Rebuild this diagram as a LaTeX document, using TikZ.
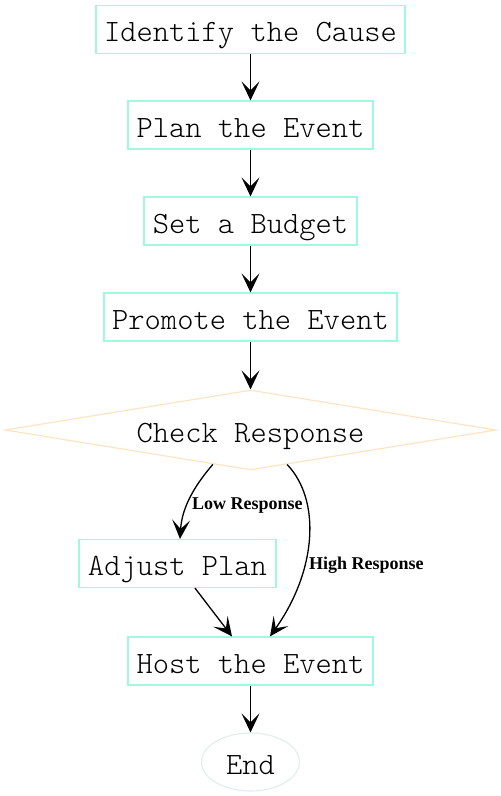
\documentclass[tikz,border=0pt]{standalone}
\usepackage{fontspec}
\newfontfamily\labelfont{Liberation Serif}
\newfontfamily\lightmono{Latin Modern Mono Light}
\usetikzlibrary{shapes.geometric,arrows.meta,calc}
\definecolor{boxc}{HTML}{A0F8E0}
\definecolor{diac}{HTML}{FFE4C4}
\definecolor{endc}{HTML}{E0EEEE}
\tikzset{
  mono/.style={font=\lightmono\fontsize{31}{34}\selectfont, text height=25pt, text depth=1pt},
  stepbox/.style={mono, draw=boxc, line width=1.2pt, rectangle, minimum height=48pt, inner sep=0pt},
  decbox/.style={mono, draw=diac, line width=1.2pt, diamond, shape aspect=6.1, minimum width=491pt, minimum height=80pt, inner sep=0pt},
  endbox/.style={mono, draw=endc, line width=1.2pt, ellipse, minimum width=98pt, minimum height=58pt, inner sep=0pt},
  conn/.style={line width=1.3pt, -{Stealth[length=19pt,width=18pt,inset=9pt]}},
  elabel/.style={font=\labelfont\bfseries\fontsize{18}{20}\selectfont, inner sep=0pt, anchor=west}
}
\begin{document}
\begin{tikzpicture}[x=1pt,y=-1pt]
\useasboundingbox (0,0) rectangle (501,796);
\node[stepbox, minimum width=309pt] (n1) at (250.5,29.5) {Identify the Cause};
\node[stepbox, minimum width=245pt] (n2) at (250.5,125) {Plan the Event};
\node[stepbox, minimum width=213pt] (n3) at (250.5,221) {Set a Budget};
\node[stepbox, minimum width=293pt] (n4) at (250.5,317) {Promote the Event};
\node[decbox] (dia) at (250.5,430) {Check Response};
\node[stepbox, minimum width=197pt] (adj) at (177.5,563.5) {Adjust Plan};
\node[stepbox, minimum width=245pt] (host) at (250.5,661) {Host the Event};
\node[endbox] (end) at (250.5,762) {End};
\draw[conn] (n1) -- (n2);
\draw[conn] (n2) -- (n3);
\draw[conn] (n3) -- (n4);
\draw[conn] (n4) -- (dia);
\coordinate (lowstart) at ($(dia.south)!0.153!(dia.west)$);
\coordinate (highstart) at ($(dia.south)!0.149!(dia.east)$);
\draw[conn] (lowstart) .. controls (196,484) and (182,506) .. ([xshift=2.5pt]adj.north);
\draw[conn] (highstart) .. controls (321,500) and (317,570) .. ([xshift=19.5pt]host.north);
\draw[conn] ([xshift=17.5pt]adj.south) -- ([xshift=-18.5pt]host.north);
\draw[conn] (host) -- (end);
\node[elabel] (lowlab) at (192,506) {Low Response};
\node[elabel] (highlab) at (309,565) {High Response};
\end{tikzpicture}
\end{document}
